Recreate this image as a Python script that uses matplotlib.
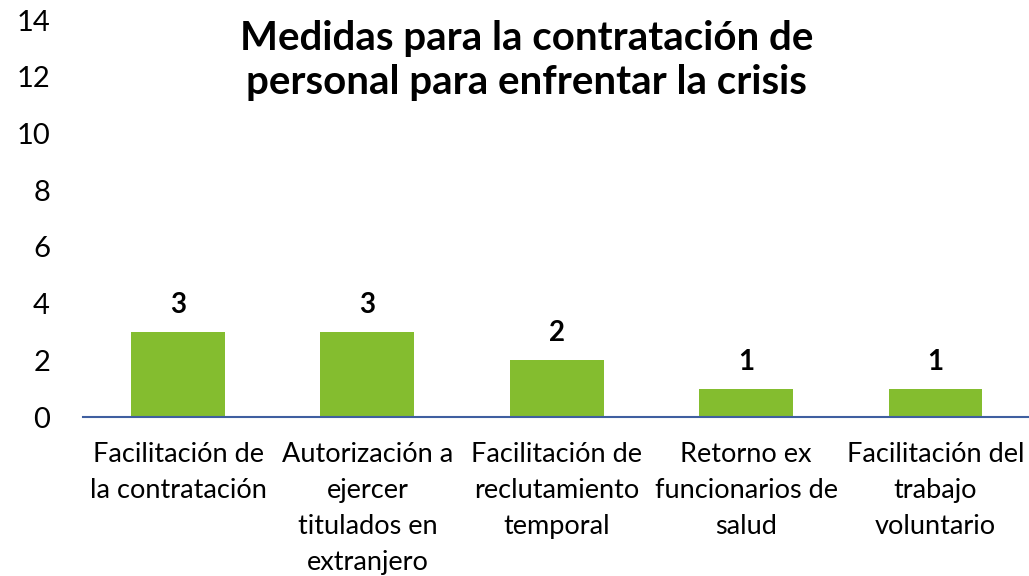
import matplotlib.pyplot as plt
import numpy as np

categorias = ["Facilitación de\nla contratación",
              "Autorización a\nejercer\ntitulados en\nextranjero",
              "Facilitación de\nreclutamiento\ntemporal",
              "Retorno ex\nfuncionarios de\nsalud",
              "Facilitación del\ntrabajo\nvoluntario"]
valores = [3, 3, 2, 1, 1]
yticks = [0, 2, 4, 6, 8, 10, 12, 14]

plt.rcParams['font.family'] = ['Lato', 'DejaVu Sans']

fig = plt.figure(figsize=(10.29, 5.76), dpi=100)
ax = fig.add_axes([0.081, 0.276, 0.92, 0.689])

x = np.arange(len(valores))
bars = ax.bar(x, valores, width=0.495, color="#84BD2F")
for xi, v in zip(x, valores):
    ax.text(xi, v + 0.5, str(v), ha="center", va="bottom", fontsize=20, fontweight="bold")

ax.set_xlim(-0.5, 4.5)
ax.set_ylim(0, 14)
ax.set_yticks(yticks)
ax.set_xticks(x)
ax.set_xticklabels(categorias, fontsize=19.5, linespacing=1.55)
ax.tick_params(axis="y", labelsize=21, length=0, pad=24)
ax.tick_params(axis="x", length=0, pad=18)

for s in ["top", "right", "left"]:
    ax.spines[s].set_visible(False)
ax.spines["bottom"].set_color("#3F5FA0")
ax.spines["bottom"].set_linewidth(1.5)

ax.text(0.468, 1.0, "Medidas para la contratación de\npersonal para enfrentar la crisis",
        transform=ax.transAxes, ha="center", va="top", fontsize=29, fontweight="bold",
        linespacing=1.22)

fig.savefig("out.png", dpi=100)
